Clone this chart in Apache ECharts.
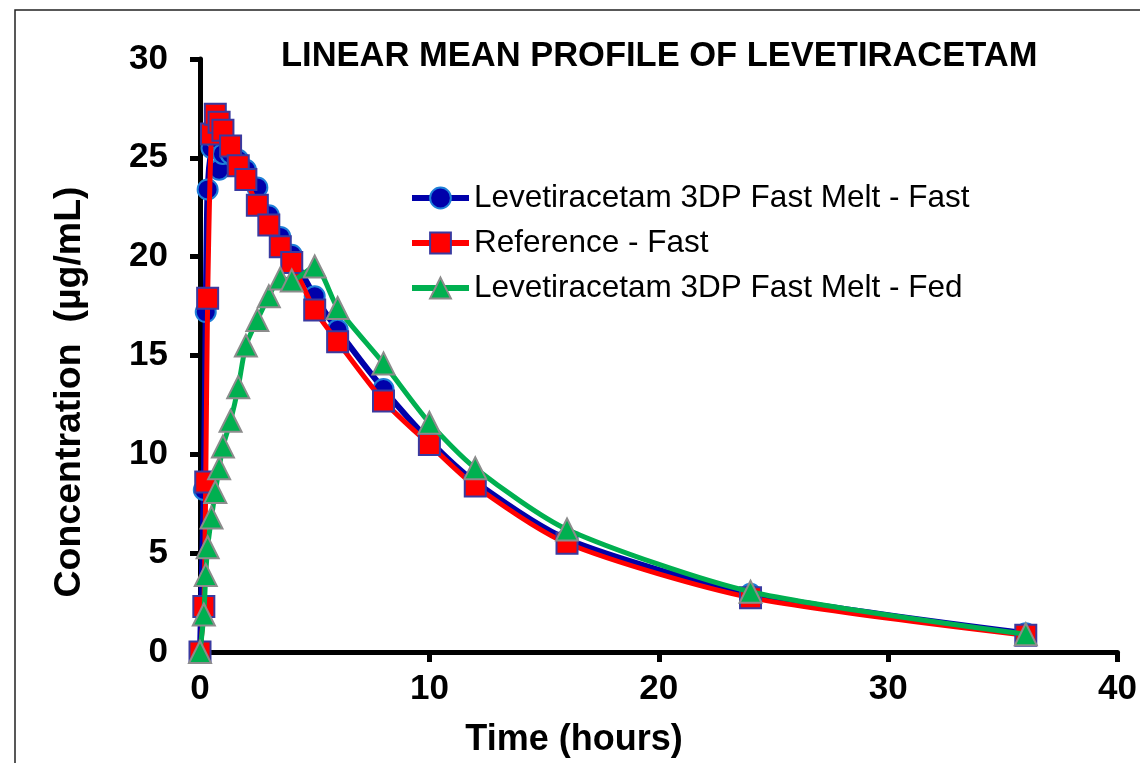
<!DOCTYPE html>
<html><head><meta charset="utf-8">
<script src="https://cdn.jsdelivr.net/npm/echarts@6/dist/echarts.min.js"></script>
<style>html,body{margin:0;padding:0;background:#fff}#c{width:1140px;height:763px}</style>
</head><body><div id="c"></div>
<script>
// Sampling times (hours)
const times = [0, 0.167, 0.25, 0.333, 0.5, 0.667, 0.833, 1, 1.333, 1.667, 2, 2.5, 3, 3.5, 4, 5, 6, 8, 10, 12, 16, 24, 36];
// Mean concentrations (µg/mL)
const fastMelt = [0, 8.2, 17.2, 23.4, 25.5, 26.0, 24.4, 25.2, 25.2, 24.9, 24.4, 23.5, 22.1, 21.0, 20.1, 18.0, 16.3, 13.3, 10.7, 8.6, 5.7, 2.95, 0.95];
const referenceFast = [0, 2.3, 8.6, 17.9, 26.2, 27.2, 26.8, 26.4, 25.6, 24.6, 23.9, 22.6, 21.6, 20.5, 19.7, 17.3, 15.7, 12.7, 10.5, 8.4, 5.5, 2.75, 0.85];
const fastMeltFed = [0, 1.9, 3.9, 5.3, 6.8, 8.1, 9.3, 10.4, 11.7, 13.4, 15.5, 16.8, 18.0, 18.9, 18.8, 19.5, 17.4, 14.6, 11.6, 9.3, 6.2, 3.05, 0.9];
const seriesNames = ['Levetiracetam 3DP Fast Melt - Fast', 'Reference - Fast', 'Levetiracetam 3DP Fast Melt - Fed'];
const titleText = 'LINEAR MEAN PROFILE OF LEVETIRACETAM';
const xName = 'Time (hours)';
const yName = 'Concentration  (\u00b5g/mL)';

const FONT = '"Liberation Sans", Arial, sans-serif';
const pairs = (vals) => times.map((t, i) => [t, vals[i]]);

const chart = echarts.init(document.getElementById('c'), null, {renderer: 'canvas'});
const axisCommon = {
  type: 'value',
  axisLine: {show: true, lineStyle: {color: '#000', width: 5}},
  axisTick: {show: true, inside: false, length: 10, lineStyle: {color: '#000', width: 5}},
  splitLine: {show: false},
  axisLabel: {fontFamily: FONT, fontWeight: 'bold', fontSize: 35, color: '#000'}
};
chart.setOption({
  animation: false,
  backgroundColor: '#fff',
  title: {
    text: titleText, left: 276, top: 34,
    textStyle: {fontFamily: FONT, fontWeight: 'bold', fontSize: 34.5, color: '#000'}
  },
  grid: {left: 200, right: 18, top: 59, bottom: 111, containLabel: false},
  legend: {
    orient: 'vertical', left: 404, top: 177,
    itemWidth: 57, itemHeight: 26, itemGap: 13,
    lineStyle: {width: 6},
    textStyle: {fontFamily: FONT, fontSize: 31.5, color: '#000'},
    data: seriesNames
  },
  xAxis: Object.assign({}, axisCommon, {
    min: 0, max: 40, interval: 10,
    axisLabel: Object.assign({}, axisCommon.axisLabel, {margin: 20})
  }),
  yAxis: Object.assign({}, axisCommon, {
    min: 0, max: 30, interval: 5,
    axisLabel: Object.assign({}, axisCommon.axisLabel, {margin: 32})
  }),
  series: [
    {
      name: seriesNames[0], type: 'line', z: 3, data: pairs(fastMelt),
      smooth: 0.25,
      symbol: 'circle', symbolSize: 20,
      lineStyle: {color: '#0000AA', width: 6},
      itemStyle: {color: '#0000AA', borderColor: '#1E7FD8', borderWidth: 2}
    },
    {
      name: seriesNames[1], type: 'line', z: 4, data: pairs(referenceFast),
      smooth: 0.25,
      symbol: 'rect', symbolSize: 21,
      lineStyle: {color: '#FF0000', width: 5},
      itemStyle: {color: '#FF0000', borderColor: '#3A3AA0', borderWidth: 2}
    },
    {
      name: seriesNames[2], type: 'line', z: 5, data: pairs(fastMeltFed),
      smooth: 0.25,
      symbol: 'triangle', symbolSize: 22,
      lineStyle: {color: '#00B050', width: 5},
      itemStyle: {color: '#00B050', borderColor: '#8C8C8C', borderWidth: 2}
    }
  ],
  graphic: [
    {type: 'rect', silent: true, z: -10, shape: {x: 15, y: 10, width: 1300, height: 900},
     style: {fill: null, stroke: '#222', lineWidth: 1.5}},
    {type: 'text', silent: true, x: 574, y: 740,
     style: {text: xName, font: 'bold 36px ' + FONT, fill: '#000', align: 'center', verticalAlign: 'middle'}},
    {type: 'text', silent: true, x: 70, y: 392, rotation: Math.PI / 2,
     style: {text: yName, font: 'bold 37.5px ' + FONT, fill: '#000', align: 'center', verticalAlign: 'middle'}}
  ]
});
</script></body></html>
